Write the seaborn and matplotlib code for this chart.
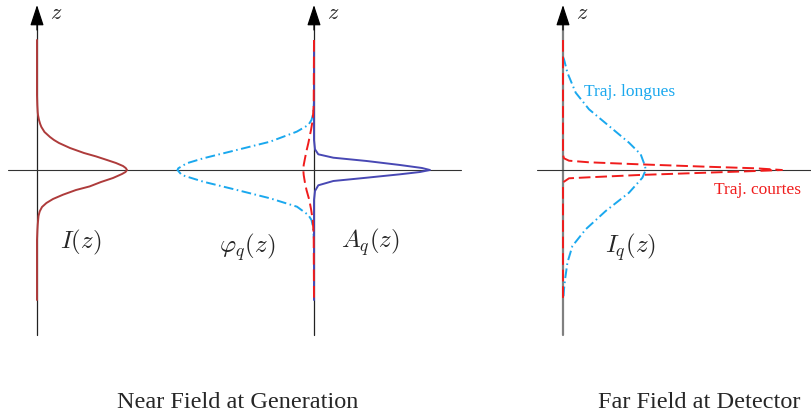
import numpy as np
import matplotlib
matplotlib.use("Agg")
import matplotlib.pyplot as plt
import seaborn as sns

# profiles: z (height above the axis) and amplitude
z_I = [130, 75, 65, 58, 55, 50, 46, 43, 38, 33, 30, 27, 22, 17, 13.6, 10, 7, 4, 2, 0,
       -2, -4, -8, -12, -16.4, -20, -24.7, -29, -33, -37, -41.4, -46, -51.4, -55, -60, -70, -130]
amp_I = [0, 0, 0.3, 0.7, 1, 2, 3.2, 4.4, 7.5, 13, 17, 22, 33, 47, 59, 70, 79, 86, 88.7, 90,
         88.5, 85, 76, 64, 52.7, 39, 26, 16, 9.4, 5, 2.7, 1.5, 1, 0.7, 0.4, 0, 0]

z_phi_long = [128, 70, 56.7, 50, 45, 38.3, 28.3, 20, 11.7, 6.7, 1.7, 0,
              -5, -11.7, -20, -28.3, -36.7, -45, -50, -56.7, -70, -130]
amp_phi_long = [0, 0, -0.7, -2.5, -5.7, -17.3, -44, -77.3, -110.7, -127.3, -135.7, -136.5,
                -132.3, -110.7, -77, -44, -17, -5.7, -2.5, -1, 0, 0]

z_phi_short = [130, 65, 50, 40, 26.7, 20, 11.7, 5, 0, -5, -13, -20, -30, -40, -50, -65, -130]
amp_phi_short = [0, -0.3, -1.3, -3, -5.7, -7.3, -9, -10.3, -10.7, -10.3, -9, -7.5, -4.7, -2.8, -1.3, -0.3, 0]

z_A = [128, 30, 20.7, 15.7, 12.3, 9, 5, 2, 0, -2, -4.3, -7.7, -11, -15.3, -21, -30, -130]
amp_A = [0, 0, 1, 4.3, 19.3, 52.7, 86, 108, 116, 106, 86, 52.7, 19.3, 4.3, 1, 0, 0]

z_Iq_long = [113, 110.7, 97.3, 77.3, 60.7, 44, 27.3, 15.7, 4, 0,
             -7.7, -22.7, -41, -59.3, -76, -92.7, -110, -119.3, -127]
amp_Iq_long = [0, 1, 4.4, 12.7, 26, 46, 66, 77.7, 82, 82.7,
               79.4, 66, 42.7, 22.7, 9.4, 4.4, 2, 1, 0.5]

z_Iq_short = [130, 15, 11.7, 9.3, 7.7, 5.7, 3.3, 1.7, 0, -1, -2.7, -5, -7.3, -8.3, -11.7, -15, -130]
amp_Iq_short = [0, 0, 1, 6, 26, 76, 143, 193, 219, 193, 143, 76, 26, 6, 1, 0, 0]

panel_titles = ["Near Field at Generation", "Far Field at Detector"]

# layout (pixel-like x, z up)
x_ax1, x_ax2, x_ax3 = 37, 314, 563

sns.set_style("white")
plt.rcParams["font.family"] = ["Liberation Serif", "DejaVu Serif"]
plt.rcParams["mathtext.fontset"] = "cm"

fig = plt.figure(figsize=(8.11, 4.20), dpi=100)
ax = fig.add_axes([0, 0, 1, 1])
ax.set_xlim(0, 811)
ax.set_ylim(-250, 170)
ax.axis("off")

# axes lines
ax.plot([8, 461], [0, 0], color="#333333", lw=0.8)
ax.plot([537, 811], [0, 0], color="#333333", lw=0.8)
for xa, col, w in [(x_ax1, "#222222", 0.9), (x_ax2, "#222222", 0.9), (x_ax3, "#808080", 1.6)]:
    ax.plot([xa, xa], [-165, 150], color=col, lw=w, zorder=1)
    ax.annotate("", xy=(xa, 165), xytext=(xa, 140),
                arrowprops=dict(arrowstyle="-|>,head_length=0.85,head_width=0.28",
                                mutation_scale=15, color="black", lw=0.9,
                                shrinkA=0, shrinkB=0))
    ax.text(xa + 13, 155, r"$z$", fontsize=16, ha="left", va="center")

red = "#f01c1c"
cyan = "#1aa8ee"
dash = (0, (6, 2.5))
dashdot = (0, (5, 1.8, 0.8, 1.8))

sns.lineplot(x=np.array(amp_I) + x_ax1, y=z_I, sort=False, estimator=None,
             color="#ae3b3b", lw=1.4, ax=ax)
sns.lineplot(x=np.array(amp_phi_long) + x_ax2, y=z_phi_long, sort=False, estimator=None,
             color=cyan, lw=1.4, linestyle=dashdot, ax=ax)
sns.lineplot(x=np.array(amp_A) + x_ax2, y=z_A, sort=False, estimator=None,
             color="#4848b4", lw=1.4, ax=ax)
sns.lineplot(x=np.array(amp_phi_short) + x_ax2, y=z_phi_short, sort=False, estimator=None,
             color=red, lw=1.4, linestyle=dash, ax=ax)
sns.lineplot(x=np.array(amp_Iq_long) + x_ax3, y=z_Iq_long, sort=False, estimator=None,
             color=cyan, lw=1.4, linestyle=dashdot, ax=ax)
sns.lineplot(x=np.array(amp_Iq_short) + x_ax3, y=z_Iq_short, sort=False, estimator=None,
             color=red, lw=1.4, linestyle=dash, ax=ax)

# labels
ax.text(81, -72, r"$I(z)$", fontsize=18, ha="center", va="center")
ax.text(247, -77, r"$\varphi_q(z)$", fontsize=18, ha="center", va="center")
ax.text(370, -72, r"$A_q(z)$", fontsize=18, ha="center", va="center")
ax.text(630, -77, r"$I_q(z)$", fontsize=18, ha="center", va="center")
ax.text(630, 78, "Traj. longues", fontsize=12.5, color=cyan, ha="center", va="center")
ax.text(757, -20, "Traj. courtes", fontsize=12.5, color=red, ha="center", va="center")

ax.text(238, -233, panel_titles[0], fontsize=17.5, ha="center", va="center")
ax.text(699, -233, panel_titles[1], fontsize=17.5, ha="center", va="center")

fig.savefig("out.png", dpi=100)
